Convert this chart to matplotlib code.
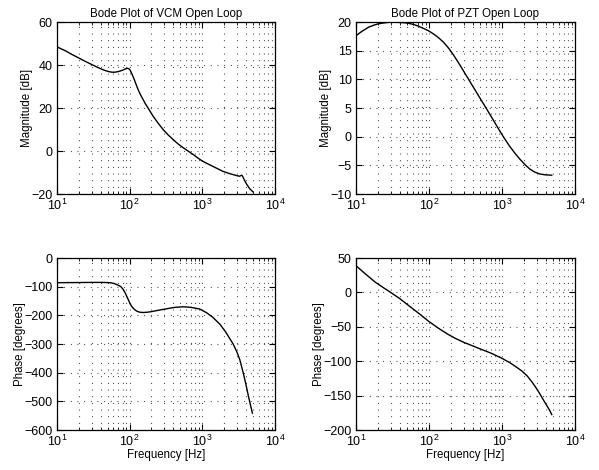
import matplotlib
matplotlib.use("Agg")
import matplotlib.pyplot as plt

plt.rcParams['font.family'] = ['Liberation Sans', 'DejaVu Sans']
plt.rcParams['mathtext.fontset'] = 'custom'
plt.rcParams['mathtext.rm'] = 'Liberation Sans'
plt.rcParams['font.size'] = 8

# VCM open loop, magnitude [dB]
vcm_mag_f = [10, 13, 16, 20, 25, 30, 35, 40, 45, 50, 57, 63, 70, 80, 87, 93, 98, 102, 108, 115, 123, 131,
             140, 150, 165, 180, 210, 247, 290, 340, 400, 466, 550, 640, 750, 880, 1000, 1200, 1500, 1920,
             2400, 2900, 3250, 3400, 3500, 3600, 3800, 4100, 4500, 4970]
vcm_mag_db = [48.5, 46.7, 45.0, 43.3, 41.6, 40.3, 39.2, 38.3, 37.6, 37.1, 36.7, 36.7, 37.0, 37.6, 38.2,
              38.5, 38.3, 37.6, 35.8, 33.6, 31.0, 28.6, 26.5, 24.6, 22.0, 20.0, 16.3, 13.0, 10.0, 7.5,
              5.3, 3.3, 1.5, 0.0, -1.6, -3.3, -4.6, -6.0, -7.6, -9.4, -10.5, -11.3, -11.7, -11.4, -11.2,
              -11.8, -13.5, -15.5, -17.5, -18.9]

# VCM open loop, phase [deg]
vcm_ph_f = [10, 20, 30, 40, 50, 57, 63, 70, 76, 82, 88, 95, 102, 108, 115, 125, 138, 155, 175, 200, 250,
            323, 420, 546, 700, 926, 1150, 1400, 1750, 2100, 2660, 3000, 3290, 3655, 4000, 4300, 4600, 4900]
vcm_ph_deg = [-86, -85.5, -85, -85, -85.5, -87, -90, -95, -100, -110, -124, -143, -160, -170, -178, -185,
              -189, -190, -189, -187, -182, -177, -172, -170, -172, -178, -191, -207, -231, -258, -300,
              -328, -355, -400, -442, -480, -512, -541]

# PZT open loop, magnitude [dB]
pzt_mag_f = [10, 12, 14.9, 17.5, 20.4, 24, 27.9, 33, 38.3, 45, 52.5, 61, 71.8, 84, 98.4, 115, 135, 158,
             185, 215, 253, 297, 350, 406, 500, 620, 750, 880, 1045, 1250, 1500, 1770, 2100, 2420, 2800,
             3320, 4000, 4800]
pzt_mag_db = [17.6, 18.35, 19.1, 19.45, 19.7, 19.85, 19.95, 20.0, 19.95, 19.9, 19.8, 19.6, 19.3, 18.9,
              18.5, 17.95, 17.3, 16.5, 15.5, 14.35, 12.95, 11.5, 10.0, 8.65, 6.75, 4.8, 3.05, 1.55, 0.0,
              -1.5, -2.85, -3.95, -4.95, -5.65, -6.15, -6.5, -6.65, -6.7]

# PZT open loop, phase [deg]
pzt_ph_f = [10, 13, 18.4, 25, 31, 40, 55, 75, 98, 135, 180, 228, 300, 400, 529, 700, 990, 1300, 1600,
            1862, 2200, 2570, 2900, 3330, 3700, 4110, 4500, 4800]
pzt_ph_deg = [39, 28.5, 15, 5.5, -1, -9, -20.5, -31.5, -41.5, -52, -60.5, -66.5, -72.5, -77.8, -83, -88,
              -95.5, -102.5, -109, -114, -121, -130, -138, -148, -156.5, -164.5, -171.5, -177.5]

panels = [
    (vcm_mag_f, vcm_mag_db, 'Magnitude [dB]', (-20, 60), [-20, 0, 20, 40, 60], 'Bode Plot of VCM Open Loop', False),
    (pzt_mag_f, pzt_mag_db, 'Magnitude [dB]', (-10, 20), [-10, -5, 0, 5, 10, 15, 20], 'Bode Plot of PZT Open Loop', False),
    (vcm_ph_f, vcm_ph_deg, 'Phase [degrees]', (-600, 0), [-600, -500, -400, -300, -200, -100, 0], None, True),
    (pzt_ph_f, pzt_ph_deg, 'Phase [degrees]', (-200, 50), [-200, -150, -100, -50, 0, 50], None, True),
]

rects = [
    [0.095, 0.587, 0.364, 0.366],
    [0.594, 0.587, 0.366, 0.366],
    [0.095, 0.085, 0.364, 0.366],
    [0.594, 0.085, 0.366, 0.366],
]

dots = (0, (0.8, 5.2))

fig = plt.figure(figsize=(5.99, 4.70), dpi=100)

for rect, (f, v, ylab, ylim, yt, title, xlab) in zip(rects, panels):
    ax = fig.add_axes(rect)
    ax.semilogx(f, v, color='k', linewidth=1.0)
    ax.set_xlim(10, 1e4)
    ax.set_ylim(*ylim)
    ax.set_yticks(yt)
    ax.set_ylabel(ylab, fontsize=8.3, labelpad=-1)
    if title:
        ax.set_title(title, fontsize=8.3, pad=4)
    if xlab:
        ax.set_xlabel('Frequency [Hz]', fontsize=8.3, labelpad=0)
    ax.grid(True, which='both', axis='x', linestyle=dots, color='0.2', linewidth=0.8)
    ax.grid(True, which='major', axis='y', linestyle=dots, color='0.2', linewidth=0.8)
    ax.tick_params(which='both', direction='in', top=True, right=True, labelsize=9)
    ax.tick_params(which='major', length=4, pad=3)
    ax.tick_params(which='minor', length=2)
    for s in ax.spines.values():
        s.set_linewidth(0.9)

fig.savefig('out.png', dpi=100)
